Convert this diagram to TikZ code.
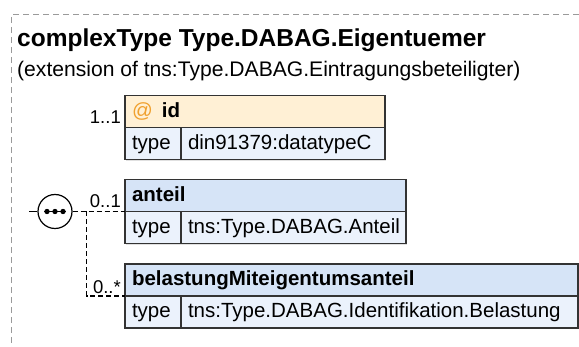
\documentclass[tikz,border=0pt]{standalone}
\usepackage{fontspec}
\setmainfont{Liberation Sans}
\usetikzlibrary{positioning,shadows}
\definecolor{boxline}{HTML}{333333}
\definecolor{hdrblue}{HTML}{D6E4F7}
\definecolor{rowblue}{HTML}{EBF2FC}
\definecolor{attrfill}{HTML}{FFF0D5}
\definecolor{attrorange}{HTML}{F0A02E}
\definecolor{framegray}{HTML}{9A9A9A}

\begin{document}
\begin{tikzpicture}[
  x=1pt,y=-1pt,
  cell/.style={draw=boxline,line width=1.2pt,outer sep=0pt,inner xsep=7pt,inner ysep=0pt,
    minimum height=32pt,text height=15pt,text depth=3.5pt,align=left,
    drop shadow={shadow xshift=1.2pt,shadow yshift=-1.2pt,fill=black!12,opacity=1},
    font=\fontsize{20.5}{24}\selectfont},
  hdr/.style={cell,anchor=north west,fill=hdrblue,text width=#1,
    font=\fontsize{20.5}{24}\selectfont\bfseries},
  typekey/.style={cell,fill=rowblue,text width=42pt,below right=0pt and 0pt of #1},
  typeval/.style={cell,fill=rowblue,text width=#1},
  mult/.style={anchor=base east,inner sep=0pt,font=\fontsize{18.5}{22}\selectfont},
  wire/.style={line width=1.2pt,dash pattern=on 5pt off 3pt},
  seqcirc/.style={circle,draw=black,line width=1.2pt,fill=white,minimum size=34pt,inner sep=0pt}
]
  \useasboundingbox (0,0) rectangle (579,347);
  \draw[framegray,line width=1pt,dash pattern=on 6pt off 4pt] (579,15) -- (11,15) -- (11,347);

  % heading
  \node[anchor=base west,inner sep=0pt,font=\fontsize{24.5}{28}\selectfont\bfseries] (title)
    at (17,47) {complexType Type.DABAG.Eigentuemer};
  \node[anchor=base west,inner sep=0pt,font=\fontsize{21.1}{25}\selectfont] (subtitle)
    at (17,77) {(extension of tns:Type.DABAG.Eintragungsbeteiligter)};

  % attribute id
  \node[hdr=246pt,fill=attrfill] (idhdr) at (125,95.5)
    {\textcolor{attrorange}{\mdseries @}\hspace{9pt}id};
  \node[typekey=idhdr.south west] (idkey) {type};
  \node[typeval=190pt,right=0pt of idkey] (idval) {din91379:datatypeC};
  \node[mult] (idmult) at ([xshift=-4pt,yshift=4pt]idhdr.south west) {1..1};

  % element anteil
  \node[hdr=267pt] (anthdr) at (125,179.5) {anteil};
  \node[typekey=anthdr.south west] (antkey) {type};
  \node[typeval=211pt,right=0pt of antkey] (antval) {tns:Type.DABAG.Anteil};
  \node[mult] (antmult) at ([xshift=-4pt,yshift=3.5pt]anthdr.south west) {0..1};

  % element belastungMiteigentumsanteil
  \node[hdr=439pt] (belhdr) at (125,264) {belastungMiteigentumsanteil};
  \node[typekey=belhdr.south west] (belkey) {type};
  \node[typeval=383pt,right=0pt of belkey] (belval) {tns:Type.DABAG.Identifikation.Belastung};
  \node[mult] (belmult) at ([xshift=-4pt,yshift=2.5pt]belhdr.south west) {0..*};

  % sequence
  \node[seqcirc] (seq) at (55,211.5) {};
  \coordinate (seqin) at (29,211.5);
  \coordinate (fork) at (86.5,211.5);
  \draw[wire] (fork) |- (belhdr.south west);
  \draw[wire] (seq.east) -- (anthdr.south west);
  \draw[line width=1.2pt] (seqin) -- (seq.west);
  \draw[line width=1.4pt] ([xshift=-11pt]seq.center) -- ([xshift=11pt]seq.center);
  \foreach \dx in {-8,0,8}
    \fill ([xshift=\dx pt]seq.center) circle[radius=2.7pt];
\end{tikzpicture}
\end{document}
